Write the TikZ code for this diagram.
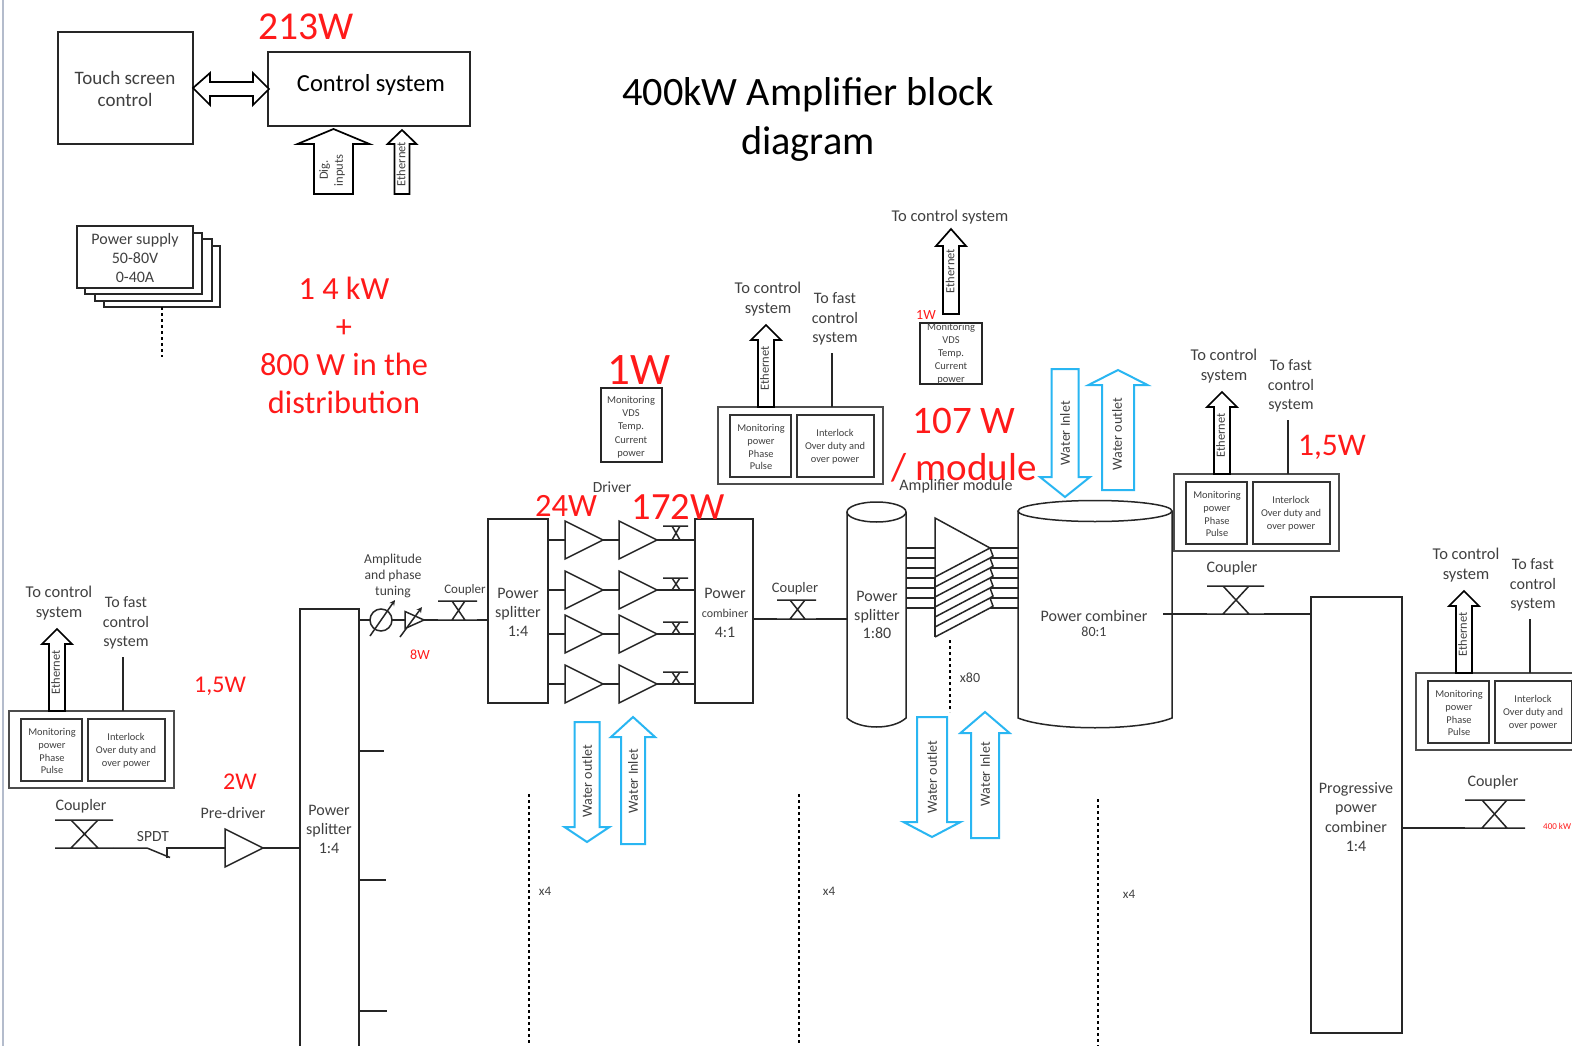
\documentclass[tikz,border=0pt]{standalone}
\usepackage{fontspec}
\setmainfont{Carlito}
\newcommand\fs[2]{\fontsize{#1}{#2}\selectfont}
\definecolor{txt}{HTML}{404040}
\definecolor{wat}{HTML}{29B6F2}
\definecolor{redt}{HTML}{FF1A1A}
\definecolor{edge}{HTML}{B4BCCC}
\tikzset{
  wire/.style={draw=black!85,line width=1.5pt},
  boxline/.style={draw=black!85,line width=1.7pt,fill=white,inner sep=0pt,outer sep=0pt,align=center},
  outerbox/.style={draw=black!70,line width=2.6pt,fill=white,inner sep=0pt,outer sep=0pt},
  innerbox/.style={draw=black!80,line width=2.2pt,fill=white,inner sep=0pt,outer sep=0pt},
  lab/.style={text=txt,align=center,inner sep=0pt,yshift=-1.2pt},
  blk/.style={text=black,align=center,inner sep=0pt,yshift=-1.2pt},
  redlab/.style={text=redt,align=center,inner sep=0pt,yshift=-1.2pt},
  blockarrow/.style={draw=black,line width=1.7pt,fill=white,line join=miter},
  waterarrow/.style={draw=wat,line width=2pt,fill=white,line join=miter},
  dots/.style={draw=black,line width=2.6pt,dash pattern=on 3pt off 3pt},
  ampl/.style={draw=black!85,line width=1.5pt,fill=white,line join=miter},
}
% name x1 y1 x2 y2 style
\newcommand\pxbox[6]{\node[#6,minimum width=\fpeval{#4-(#2)}pt,minimum height=\fpeval{#5-(#3)}pt] (#1) at (\fpeval{(#2+#4)/2},\fpeval{(#3+#5)/2}) {};}
% style name cx tip back headhalf shafthalf end
\newcommand\varrow[8]{\draw[#1] (#3,#4) -- ({#3+#6},#5) -- ({#3+#7},#5) -- ({#3+#7},#8) -- ({#3-#7},#8) -- ({#3-#7},#5) -- ({#3-#6},#5) -- cycle; \coordinate (#2) at (#3,#8);}
% name xleft xtip y half
\newcommand\ampsym[5]{\draw[ampl] (#2,{#4-#5}) -- (#3,#4) -- (#2,{#4+#5}) -- cycle; \coordinate (#1-in) at (#2,#4); \coordinate (#1-out) at (#3,#4);}
% name x1 x2 xa xb top bottom
\newcommand\couplersym[7]{\coordinate (#1-l) at (#2,#7); \coordinate (#1-r) at (#3,#7);
  \draw[wire] (#2,#6) -- (#3,#6) (#1-l) -- (#1-r) (#4,#6) -- (#5,#7) (#5,#6) -- (#4,#7);}
% prefix dx dy : module with Ethernet arrow and fast line
\newcommand\modulegroup[3]{\begin{scope}[shift={(#2,#3)}]
  \pxbox{#1-o}{9}{711}{174}{788}{outerbox}
  \pxbox{#1-m}{21}{719}{82}{781}{innerbox}
  \pxbox{#1-i}{88}{719}{165}{781}{innerbox}
  \varrow{blockarrow}{#1-e}{57}{629}{644}{15}{8}{711}
  \node[lab,rotate=90,font=\fs{12.5}{12.5}] (#1-et) at (55.5,671) {Ethernet};
  \coordinate (#1-f) at (123,657);
  \draw[wire] (#1-f) -- (#1-f |- #1-o.north);
  \node[lab,font=\fs{16.5}{20}] (#1-tc) at (59,602) {To control\\system};
  \node[lab,font=\fs{16}{19.5}] (#1-tf) at (126,622) {To fast\\control\\system};
  \node[lab,font=\fs{10.4}{12.6}] (#1-mt) at (52,750) {Monitoring\\power\\Phase\\Pulse};
  \node[lab,font=\fs{10.4}{13}] (#1-it) at (126,750) {Interlock\\Over duty and\\over power};
\end{scope}}
\begin{document}
\begin{tikzpicture}[x=1pt,y=-1pt]
\useasboundingbox (0,0) rectangle (1572,1046);
\fill[white] (0,0) rectangle (1572,1046);
\clip (0,0) rectangle (1572,1046);
\draw[draw=edge,line width=2pt] (3,0) -- (3,1046);

% top
\pxbox{touch}{58}{32}{193}{144}{boxline}
\node[lab,font=\fs{19}{22}] (touchT) at (125,88) {Touch screen\\control};
\pxbox{ctrl}{268}{52}{470}{126}{boxline}
\node[blk,font=\fs{24.5}{24.5}] (ctrlT) at (371,84) {Control system};
\node[redlab,font=\fs{39.5}{39.5}] (p213) at (306,26) {213W};
\coordinate (dl) at (193,88);
\coordinate (dr) at (269,89);
\draw[blockarrow] (dl) -- (210,73) -- (210,82) -- (253,82) -- (253,73) -- (dr) -- (253,105) -- (253,96) -- (210,96) -- (210,105) -- cycle;
\varrow{blockarrow}{digA}{333.5}{129}{144}{36}{19.5}{194}
\node[lab,rotate=90,font=\fs{12.5}{15}] (digT) at (332,169) {Dig.\\inputs};
\varrow{blockarrow}{ethA}{402}{130}{144}{14.5}{7.5}{194}
\node[lab,rotate=90,font=\fs{12.5}{12.5}] (ethT) at (401,163) {Ethernet};
\node[blk,font=\fs{40.3}{49}] (title) at (808,118) {400kW Amplifier block\\diagram};

% power supply stack
\pxbox{ps4}{104}{246}{220}{307}{boxline}
\pxbox{ps3}{95}{239}{212}{301}{boxline}
\pxbox{ps2}{85}{233}{202}{294}{boxline}
\pxbox{ps1}{77}{226}{193}{288}{boxline}
\node[lab,font=\fs{16}{19}] (psT) at (135,257) {Power supply\\50-80V\\0-40A};
\coordinate (psEnd) at (162,357);
\draw[dots] (ps4.south -| psEnd) -- (psEnd);
\node[redlab,font=\fs{32.3}{38}] (tot) at (344,344) {1 4 kW\\+\\800 W in the\\distribution};

% bottom left module and chain
\modulegroup{m1}{0}{0}
\node[redlab,font=\fs{24}{24}] (p15a) at (220,685) {1,5W};
\node[redlab,font=\fs{24}{24}] (p2) at (240,781) {2W};
\node[lab,font=\fs{16}{16}] (cp1T) at (81,805) {Coupler};
\couplersym{cp1}{55}{113}{71}{98}{820}{848}
\coordinate (sw1) at (147,848);
\coordinate (sw2) at (167,848);
\draw[wire] (cp1-r) -- (sw1) -- (170,857.5);
\node[lab,font=\fs{15.5}{15.5}] (spdtT) at (153,835) {SPDT};
\ampsym{pd}{225}{263}{848}{19}
\draw[wire] (167,858) -- (sw2) -- (pd-in);
\node[lab,font=\fs{16}{16}] (pdT) at (233,812) {Pre-driver};
\pxbox{big}{300}{609}{359}{1062}{boxline}
\node[lab,font=\fs{16}{18.8}] (bigT) at (329,828) {Power\\splitter\\1:4};
\draw[wire] (pd-out) -- (big.west |- pd-out);
\foreach \n/\y/\x in {s1/751/384,s2/880/386,s3/1011/387} {
  \coordinate (\n) at (\x,\y);
  \draw[wire] (big.east |- \n) -- (\n);
}

% phase / attenuator
\node[draw=black!85,line width=1.5pt,circle,minimum size=22pt,inner sep=0pt,outer sep=0pt,fill=white] (ph) at (381,620) {};
\coordinate (bigOut) at (359,620);
\draw[wire] (bigOut) -- (ph.west);
\ampsym{va}{405}{424}{620}{8.5}
\draw[wire] (ph.east) -- (va-in);
\draw[wire,-stealth] (370,636) -- (395,600);
\draw[wire,-stealth] (400,637) -- (422,607);
\node[lab,font=\fs{13.6}{16}] (apT) at (393,575) {Amplitude\\and phase\\tuning};
\node[redlab,font=\fs{14}{14}] (p8) at (420,654) {8W};
\node[lab,font=\fs{13}{13}] (cp2T) at (465,589) {Coupler};
\couplersym{cp2}{438}{477}{452}{465}{601}{620}

% driver stage
\pxbox{spA}{488}{519}{548}{703}{boxline}
\node[lab,font=\fs{16}{18.8}] (spAT) at (518,611) {Power\\splitter\\1:4};
\pxbox{cbA}{695}{519}{753}{703}{boxline}
\node[lab,font=\fs{16}{16}] (cbT1) at (725,592) {Power};
\node[lab,font=\fs{12}{12}] (cbT2) at (725,612) {combiner};
\node[lab,font=\fs{16}{16}] (cbT3) at (725,631) {4:1};
\draw[wire] (va-out) -- (cp2-l) (cp2-r) -- (spA.west |- cp2-r);
\foreach \r/\y/\t in {1/540/526,2/590/578,3/634/622,4/684/672} {
  \ampsym{a\r}{565}{603}{\y}{19}
  \ampsym{b\r}{619}{657}{\y}{19}
  \couplersym{k\r}{663}{688}{672}{680}{\t}{\y}
  \draw[wire] (spA.east |- a\r-in) -- (a\r-in) (a\r-out) -- (b\r-in) (b\r-out) -- (cbA.west |- b\r-out);
}
\node[lab,font=\fs{15.5}{15.5}] (drT) at (612,486) {Driver};
\node[redlab,font=\fs{32.5}{32.5}] (p24) at (566,505) {24W};
\node[redlab,font=\fs{38.5}{38.5}] (p172) at (678,506) {172W};
\pxbox{monA}{601}{388}{662}{462}{boxline}
\node[lab,font=\fs{10.5}{13.2}] (monAT) at (631,426) {Monitoring\\VDS\\Temp.\\Current\\power};
\node[redlab,font=\fs{45}{45}] (p1) at (639,369) {1W};
\modulegroup{m2}{709}{-304}

% water arrows below driver
\varrow{waterarrow}{wa}{587}{842}{827}{22.5}{12.5}{722}
\node[lab,rotate=90,font=\fs{14}{14}] (waT) at (587,780) {Water outlet};
\varrow{waterarrow}{wb}{633}{717}{737}{22}{12}{844}
\node[lab,rotate=90,font=\fs{14}{14}] (wbT) at (633,780) {Water Inlet};

% coupler to cylinder
\node[lab,font=\fs{14.5}{14.5}] (cp3T) at (795,587) {Coupler};
\couplersym{cp3}{777}{816}{790}{805}{600}{619}

% splitter cylinder
\coordinate (cylAw) at (847,619);
\draw[wire,fill=white] (847,512) -- (847,718) .. controls (860,730) and (893,730) .. (906,718) -- (906,512);
\draw[wire,fill=white] (876.5,512) ellipse [x radius=29.5pt,y radius=10pt];
\node[lab,font=\fs{16}{18.5}] (cylAT) at (877,614) {Power\\splitter\\1:80};
\draw[wire] (cbA.east |- cp3-l) -- (cp3-l) (cp3-r) -- (cylAw);

% combiner cylinder
\draw[wire,fill=white] (1018,511) -- (1018,718) .. controls (1050,731) and (1140,731) .. (1172,718) -- (1172,511);
\draw[wire,fill=white] (1095,511) ellipse [x radius=77pt,y radius=10.5pt];
\node[lab,font=\fs{16}{16}] (cylBT1) at (1094,615) {Power combiner};
\node[lab,font=\fs{14}{14}] (cylBT2) at (1094,631) {80:1};

% amplifier module
\foreach \i in {0,...,6} {
  \coordinate (mi\i) at (935,{548+10*\i});
  \coordinate (mo\i) at (990,{548+10*\i});
  \draw[wire] (906,{548+10*\i}) -- (mi\i) (mo\i) -- (1018,{548+10*\i});
}
\draw[ampl,line join=miter] (935,518) -- (mo0) -- (935,577) -- cycle;
\foreach \i in {1,...,6} {
  \draw[ampl] (990,{548+10*\i}) -- (935,{577+10*\i}) (990,{548+10*(\i-1)}) -- (993,{548+10*\i-2}) -- (990,{548+10*\i});
}
\draw[ampl] (935,577) -- (935,637);
\coordinate (modDot) at (950,712);
\draw[dots] (950,640) -- (modDot);
\node[lab,font=\fs{14}{14}] (x80) at (970,677) {x80};

\node[redlab,font=\fs{39}{46}] (p107a) at (964,420) {107 W};
\node[redlab,font=\fs{39}{39}] (p107b) at (964,467) {/ module};
\node[lab,font=\fs{16}{16}] (amT) at (956,485.5) {Amplifier module};

% module monitoring top
\pxbox{monB}{920}{323}{982}{384}{boxline}
\node[lab,font=\fs{10.5}{13}] (monBT) at (951,353) {Monitoring\\VDS\\Temp.\\Current\\power};
\varrow{blockarrow}{eb}{951}{229}{246}{15}{8}{314}
\node[lab,rotate=90,font=\fs{12.5}{12.5}] (ebT) at (950,270) {Ethernet};
\node[lab,font=\fs{16.5}{16.5}] (tcT) at (950,216) {To control system};
\node[redlab,font=\fs{14}{14}] (p1b) at (926,314) {1W};
\varrow{waterarrow}{wc}{1065}{497}{477}{25}{13.5}{369}
\node[lab,rotate=90,font=\fs{14}{14}] (wcT) at (1065,432) {Water Inlet};
\varrow{waterarrow}{wd}{1118}{370}{385}{29.5}{16}{490}
\node[lab,rotate=90,font=\fs{14}{14}] (wdT) at (1117,433) {Water outlet};
\varrow{waterarrow}{we}{932}{837}{822}{28.5}{15}{717}
\node[lab,rotate=90,font=\fs{14}{14}] (weT) at (932,776) {Water outlet};
\varrow{waterarrow}{wf}{985}{712}{733}{24.5}{14}{838}
\node[lab,rotate=90,font=\fs{14}{14}] (wfT) at (985,773) {Water Inlet};

% dashed separators
\foreach \n/\x/\y in {d1/529/794,d2/799/794,d3/1098/799} {
  \coordinate (\n) at (\x,\y);
  \draw[dots] (\n) -- (\x,1046);
}
\node[lab,font=\fs{13}{13}] (x4a) at (545,890) {x4};
\node[lab,font=\fs{13}{13}] (x4b) at (829,890) {x4};
\node[lab,font=\fs{13}{13}] (x4c) at (1129,893) {x4};

% right side
\modulegroup{m3}{1165}{-237}
\node[redlab,font=\fs{31.5}{31.5}] (p15b) at (1332,446) {1,5W};
\node[lab,font=\fs{16}{16}] (cp4T) at (1232,567) {Coupler};
\couplersym{cp4}{1207}{1264}{1223}{1249}{586}{614}
\pxbox{prog}{1311}{597}{1402}{1033}{boxline}
\node[lab,font=\fs{16}{19.5}] (progT) at (1356,816) {Progressive\\power\\combiner\\1:4};
\coordinate (cylBe) at (1163,614);
\draw[wire] (cylBe) -- (cp4-l) (cp4-r) -- (prog.west |- cp4-r);
\modulegroup{m4}{1407}{-38}
\node[lab,font=\fs{16}{16}] (cp5T) at (1493,781) {Coupler};
\couplersym{cp5}{1465}{1525}{1482}{1507}{800}{828}
\draw[wire] (prog.east |- cp5-l) -- (cp5-l);
\node[redlab,font=\fs{9}{9},anchor=west] (p400) at (1543,825) {400 kW};
\end{tikzpicture}
\end{document}
